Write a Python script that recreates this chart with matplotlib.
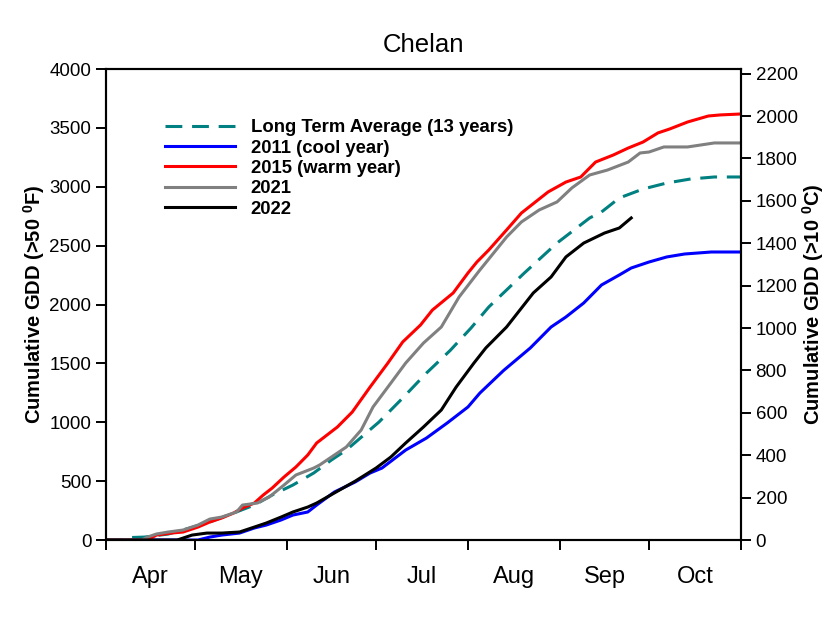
import matplotlib.pyplot as plt

plt.rcParams["font.family"] = ["Liberation Sans", "DejaVu Sans"]
plt.rcParams["mathtext.fontset"] = "custom"
plt.rcParams["mathtext.rm"] = "Liberation Sans"
plt.rcParams["mathtext.bf"] = "Liberation Sans:bold"

# Days since April 1 and cumulative GDD (°F)
avg_days = [0, 5, 7, 13, 21, 27, 35, 43, 50, 56, 63, 70, 76, 81, 92, 100, 108, 116,
            123, 129, 141, 152, 163, 167, 173, 181, 189, 197, 205, 214]
avg_gdd = [0, 0, 20, 25, 51, 93, 153, 229, 297, 382, 467, 569, 680, 764, 1002, 1206,
           1418, 1610, 1800, 1979, 2268, 2522, 2735, 2786, 2905, 2981, 3032, 3066,
           3083, 3083]

y2011_days = [0, 31, 35, 39, 45, 50, 54, 59, 63, 68, 71, 77, 84, 89, 93, 101, 108, 115,
              122, 126, 134, 143, 150, 155, 161, 167, 173, 177, 183, 189, 195, 204, 214]
y2011_gdd = [0, 0, 25, 42, 59, 102, 127, 170, 212, 238, 297, 408, 493, 569, 611, 764,
             866, 994, 1130, 1248, 1440, 1631, 1809, 1894, 2013, 2166, 2251, 2310,
             2361, 2404, 2429, 2446, 2446]

y2015_days = [0, 14, 17, 22, 26, 31, 35, 39, 43, 46, 50, 53, 56, 60, 64, 68, 71, 78, 83,
              89, 95, 100, 106, 110, 117, 122, 125, 129, 135, 140, 149, 155, 160, 165,
              171, 176, 181, 186, 190, 196, 203, 207, 214]
y2015_gdd = [0, 0, 42, 59, 68, 110, 153, 187, 229, 272, 314, 382, 441, 535, 620, 722,
             824, 960, 1087, 1299, 1503, 1682, 1826, 1953, 2098, 2268, 2361, 2463, 2633,
             2777, 2956, 3040, 3083, 3210, 3270, 3329, 3380, 3457, 3491, 3550, 3601,
             3610, 3618]

y2021_days = [0, 12, 14, 17, 21, 26, 31, 35, 39, 44, 46, 51, 55, 60, 64, 70, 72, 81, 86,
              90, 96, 101, 107, 113, 119, 126, 135, 140, 146, 152, 157, 163, 169, 176,
              180, 183, 188, 196, 205, 214]
y2021_gdd = [0, 0, 25, 51, 68, 85, 127, 178, 195, 238, 297, 314, 365, 467, 552, 611,
             637, 790, 934, 1130, 1333, 1503, 1673, 1809, 2064, 2293, 2573, 2701, 2803,
             2871, 2990, 3100, 3142, 3210, 3287, 3295, 3338, 3338, 3372, 3372]

y2022_days = [0, 24, 29, 34, 39, 45, 50, 54, 59, 63, 68, 71, 77, 84, 91, 96, 101, 107,
              113, 118, 124, 128, 135, 144, 150, 155, 161, 168, 173, 177]
y2022_gdd = [0, 0, 42, 59, 59, 68, 110, 144, 195, 238, 280, 314, 400, 500, 611, 705,
             824, 960, 1104, 1299, 1503, 1631, 1809, 2098, 2234, 2404, 2522, 2607, 2650,
             2735]

month_starts = [0, 30, 61, 91, 122, 153, 183, 214]
month_names = ["Apr", "May", "Jun", "Jul", "Aug", "Sep", "Oct"]

fig = plt.figure(figsize=(8.39, 6.2), dpi=100)
ax = fig.add_axes([0.1263, 0.129, 0.7569, 0.7597])

lw = 2.2
ax.plot(avg_days, avg_gdd, color="#008080", lw=lw, dashes=(5.5, 3.2),
        label="Long Term Average (13 years)")
ax.plot(y2011_days, y2011_gdd, color="#0000FF", lw=lw, label="2011 (cool year)")
ax.plot(y2015_days, y2015_gdd, color="#FF0000", lw=lw, label="2015 (warm year)")
ax.plot(y2021_days, y2021_gdd, color="#808080", lw=lw, label="2021")
ax.plot(y2022_days, y2022_gdd, color="#000000", lw=lw, label="2022")

ax.set_xlim(0, 214)
ax.set_ylim(0, 4000)
ax.set_yticks(range(0, 4001, 500))

# Month ticks at boundaries, labels centred between them
ax.set_xticks(month_starts)
ax.set_xticklabels([])
mids = [(a + b) / 2 for a, b in zip(month_starts[:-1], month_starts[1:])]
ax.set_xticks(mids, minor=True)
ax.set_xticklabels(month_names, minor=True, fontsize=17)
ax.tick_params(axis="x", which="minor", length=0, pad=19)
ax.tick_params(axis="x", which="major", length=7, width=1.4, direction="out")
ax.tick_params(axis="y", length=7, width=1.4, direction="out", labelsize=13.5)

for sp in ax.spines.values():
    sp.set_linewidth(1.5)

ax2 = ax.twinx()
ax2.set_ylim(0, 4000 * 5 / 9)
ax2.set_yticks(range(0, 2201, 200))
ax2.tick_params(axis="y", length=7, width=1.4, direction="out", labelsize=13.5)
for sp in ax2.spines.values():
    sp.set_linewidth(1.5)

ax.set_ylabel(r"Cumulative GDD (>50 $\mathbf{^{0}}$F)", fontsize=14.5,
              fontweight="bold", labelpad=2)
ax2.set_ylabel(r"Cumulative GDD (>10 $\mathbf{^{0}}$C)", fontsize=14.5,
               fontweight="bold", labelpad=2)
ax.set_title("Chelan", fontsize=18.5, pad=12)

ax.legend(loc="upper left", bbox_to_anchor=(0.081, 0.909), frameon=False,
          prop={"weight": "bold", "size": 13.3}, handlelength=3.8,
          handletextpad=0.85, labelspacing=0.18, borderaxespad=0)

fig.savefig("out.png", dpi=100)
